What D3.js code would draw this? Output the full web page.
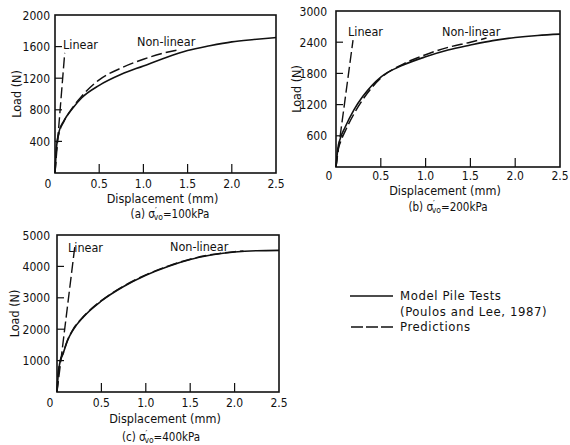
<!DOCTYPE html>
<html>
<head>
<meta charset="utf-8">
<script src="https://cdn.jsdelivr.net/npm/d3@7"></script>
<style>
  body { margin: 0; background: #fff; }
  svg { display: block; }
  text { font-family: "Liberation Sans Narrow", "DejaVu Sans Condensed", sans-serif; fill: #111; }
</style>
</head>
<body>
<svg id="chart" width="570" height="445"></svg>
<script>
// displacement (mm) / load (N)
var testA = [[0,0],[0.02,360],[0.05,540],[0.1,660],[0.2,820],[0.3,950],[0.5,1110],[0.75,1250],[1.0,1355],[1.25,1460],[1.5,1550],[1.75,1610],[2.0,1660],[2.25,1690],[2.5,1715]];
var predA = [[0,0],[0.02,350],[0.05,520],[0.1,650],[0.2,830],[0.3,970],[0.5,1180],[0.75,1330],[1.0,1440],[1.2,1510],[1.41,1560]];
var linA = [[0,0],[0.11,1520]];

var testB = [[0,0],[0.02,350],[0.05,560],[0.1,760],[0.2,1100],[0.3,1360],[0.5,1730],[0.75,1960],[1.0,2120],[1.25,2250],[1.5,2345],[1.75,2430],[2.0,2490],[2.25,2530],[2.5,2555]];
var predB = [[0,0],[0.02,300],[0.05,480],[0.1,680],[0.2,1020],[0.3,1300],[0.5,1710],[0.75,1980],[1.0,2160],[1.25,2300],[1.5,2400],[1.68,2480]];
var linB = [[0,0],[0.19,2440]];

var testC = [[0,0],[0.015,600],[0.03,900],[0.07,1230],[0.12,1650],[0.18,1975],[0.3,2400],[0.5,2900],[0.75,3360],[1.0,3720],[1.25,4000],[1.5,4220],[1.75,4370],[2.0,4460],[2.25,4500],[2.5,4510]];
var predC = [[0,0],[0.015,620],[0.03,920],[0.07,1250],[0.12,1660],[0.18,1990],[0.3,2410],[0.5,2910],[0.75,3370],[1.0,3730],[1.25,4010],[1.5,4230],[1.75,4380],[2.0,4470],[2.1,4490]];
var linC = [[0,0],[0.2,4620]];

var xTicks = [0.5, 1.0, 1.5, 2.0, 2.5];
var yTicksA = [400, 800, 1200, 1600, 2000];
var yTicksB = [600, 1200, 1800, 2400, 3000];
var yTicksC = [1000, 2000, 3000, 4000, 5000];

var svg = d3.select("#chart");

var panels = [
  {left: 55, right: 276, top: 15, bottom: 173, ymax: 2000, yticks: yTicksA,
   test: testA, pred: predA, lin: linA, letter: "(a)", stress: "100kPa",
   linLbl: [63, 49], nlLbl: [137, 46], xlblY: 188, dispY: 203, capX: 170, capY: 218, loadX: 17, yLblOff: 5},
  {left: 336, right: 560, top: 11, bottom: 167, ymax: 3000, yticks: yTicksB,
   test: testB, pred: predB, lin: linB, letter: "(b)", stress: "200kPa",
   linLbl: [348, 36], nlLbl: [442, 36], xlblY: 180, dispY: 195, capX: 448, capY: 211, loadX: 297, yLblOff: 9},
  {left: 57, right: 279, top: 235, bottom: 392, ymax: 5000, yticks: yTicksC,
   test: testC, pred: predC, lin: linC, letter: "(c)", stress: "400kPa",
   linLbl: [68, 252], nlLbl: [170, 251], xlblY: 407, dispY: 423, capX: 161, capY: 441, loadX: 15, yLblOff: 7}
];

panels.forEach(function (p) {
  var x = d3.scaleLinear().domain([0, 2.5]).range([p.left, p.right]);
  var y = d3.scaleLinear().domain([0, p.ymax]).range([p.bottom, p.top]);
  var g = svg.append("g");

  var line = d3.line()
    .x(function (d) { return x(d[0]); })
    .y(function (d) { return y(d[1]); })
    .curve(d3.curveMonotoneX);

  // frame
  g.append("rect")
    .attr("x", p.left).attr("y", p.top)
    .attr("width", p.right - p.left).attr("height", p.bottom - p.top)
    .attr("fill", "none").attr("stroke", "#111").attr("stroke-width", 1.6);

  // inward ticks
  g.selectAll(".xt").data(xTicks.slice(0, 4)).enter().append("line")
    .attr("x1", function (d) { return x(d); }).attr("x2", function (d) { return x(d); })
    .attr("y1", p.bottom).attr("y2", p.bottom - 9)
    .attr("stroke", "#111").attr("stroke-width", 1.2);
  g.selectAll(".yt").data(p.yticks.slice(0, 4)).enter().append("line")
    .attr("x1", p.left).attr("x2", p.left + 7)
    .attr("y1", function (d) { return y(d); }).attr("y2", function (d) { return y(d); })
    .attr("stroke", "#111").attr("stroke-width", 1.2);

  // tick labels
  g.selectAll(".xl").data(xTicks).enter().append("text")
    .attr("x", function (d) { return x(d); }).attr("y", p.xlblY)
    .attr("text-anchor", "middle").attr("font-size", 12)
    .text(function (d) { return d.toFixed(1); });
  g.append("text").attr("x", p.left - 7).attr("y", p.xlblY)
    .attr("text-anchor", "middle").attr("font-size", 12).text("0");
  g.selectAll(".yl").data(p.yticks).enter().append("text")
    .attr("x", p.left - p.yLblOff).attr("y", function (d) { return y(d) + 4.5; })
    .attr("text-anchor", "end").attr("font-size", 12)
    .text(function (d) { return d; });

  // axis titles
  g.append("text").attr("x", (p.left + p.right) / 2 - 3).attr("y", p.dispY)
    .attr("text-anchor", "middle").attr("font-size", 12.5).text("Displacement (mm)");
  g.append("text")
    .attr("transform", "translate(" + (p.loadX + 4) + "," + ((p.top + p.bottom) / 2) + ") rotate(-90)")
    .attr("text-anchor", "middle").attr("font-size", 12.5).text("Load (N)");

  // caption
  var cap = g.append("text").attr("x", p.capX).attr("y", p.capY)
    .attr("text-anchor", "middle").attr("font-size", 11.5);
  cap.append("tspan").text(p.letter + "  σ");
  cap.append("tspan").attr("font-size", 9).attr("dy", -4).text("′");
  cap.append("tspan").attr("font-size", 8.5).attr("dx", -3).attr("dy", 6).text("vo");
  cap.append("tspan").attr("dy", -2).text("=" + p.stress);

  // curves
  g.append("path").datum(p.test).attr("d", line)
    .attr("fill", "none").attr("stroke", "#111").attr("stroke-width", 1.6);
  g.append("path").datum(p.pred).attr("d", line)
    .attr("fill", "none").attr("stroke", "#111").attr("stroke-width", 1.5)
    .attr("stroke-dasharray", "11,4");
  g.append("path").datum(p.lin).attr("d", line)
    .attr("fill", "none").attr("stroke", "#111").attr("stroke-width", 1.4)
    .attr("stroke-dasharray", "11,4");

  g.append("text").attr("x", p.linLbl[0]).attr("y", p.linLbl[1])
    .attr("font-size", 12.5).text("Linear");
  g.append("text").attr("x", p.nlLbl[0]).attr("y", p.nlLbl[1])
    .attr("font-size", 12.5).text("Non-linear");
});

// legend
var leg = svg.append("g");
leg.append("line").attr("x1", 350).attr("x2", 393).attr("y1", 296).attr("y2", 296)
  .attr("stroke", "#111").attr("stroke-width", 1.5);
leg.append("line").attr("x1", 351).attr("x2", 393).attr("y1", 327).attr("y2", 327)
  .attr("stroke", "#111").attr("stroke-width", 1.5).attr("stroke-dasharray", "12,3");
leg.selectAll(".lt").data(["Model Pile Tests", "(Poulos and Lee, 1987)", "Predictions"]).enter()
  .append("text")
  .attr("x", 400).attr("y", function (d, i) { return [300, 316, 331][i]; })
  .attr("font-size", 13).attr("letter-spacing", 0.6)
  .text(function (d) { return d; });
</script>
</body>
</html>
